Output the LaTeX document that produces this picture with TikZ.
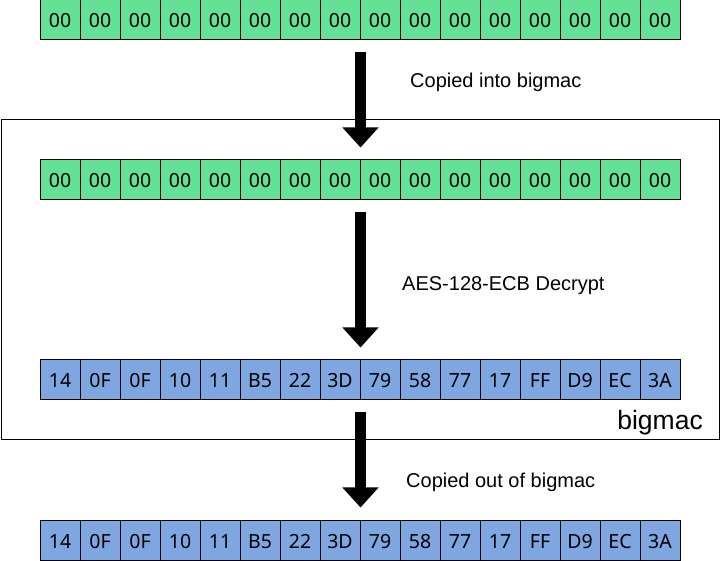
\documentclass[tikz,border=0pt]{standalone}
\usepackage{fontspec}
\setmainfont{Liberation Sans}
\newfontfamily\cellfont{Noto Sans}
\usetikzlibrary{arrows.meta}
\definecolor{cellgreen}{HTML}{63E297}
\definecolor{cellblue}{HTML}{7EA6E0}
\tikzset{
  cell/.style={draw=black, line width=1pt, minimum width=40pt, minimum height=40pt, inner sep=0pt, text height=16pt, text depth=0pt, font=\cellfont\fontsize{19.5}{22}\selectfont},
  gcell/.style={cell, fill=cellgreen},
  bcell/.style={cell, fill=cellblue},
  bigarrow/.style={line width=11pt, -{Triangle[width=35pt,length=20pt]}, shorten <=12pt, shorten >=12pt},
  lbl/.style={inner sep=0pt, anchor=base west, font=\fontsize{20}{24}\selectfont},
  enclosure/.style={draw=black, line width=1pt, minimum width=718pt, minimum height=320pt, inner sep=0pt}
}
\begin{document}
\begin{tikzpicture}[x=1pt,y=-1pt]
\useasboundingbox (0,0) rectangle (721,561);
% enclosure
\node[enclosure] (bigmac) at (360,280) {};
\node[inner sep=0pt, anchor=base east, font=\fontsize{26.5}{30}\selectfont] (bigmaclbl) at (703,430) {bigmac};
% rows
\foreach \i in {1,...,16} {
  \node[gcell] (r1c\i) at (40*\i+20,20) {00};
  \node[gcell] (r2c\i) at (40*\i+20,180) {00};
}
\foreach \v [count=\i] in {14,0F,0F,10,11,B5,22,3D,79,58,77,17,FF,D9,EC,3A} {
  \node[bcell] (r3c\i) at (40*\i+20,380) {\v};
  \node[bcell] (r4c\i) at (40*\i+20,540) {\v};
}
% arrows
\draw[bigarrow] (r1c8.south east) -- (r2c8.north east);
\draw[bigarrow] (r2c8.south east) -- (r3c8.north east);
\draw[bigarrow] (r3c8.south east) -- (r4c8.north east);
% labels
\node[lbl] (l1) at (410,88) {Copied into bigmac};
\node[lbl] (l2) at (402,291) {AES-128-ECB Decrypt};
\node[lbl] (l3) at (406,488) {Copied out of bigmac};
\end{tikzpicture}
\end{document}
